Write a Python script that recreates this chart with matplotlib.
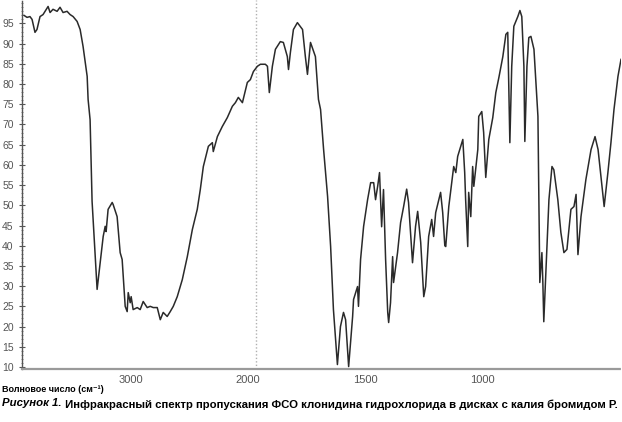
import numpy as np
import matplotlib
matplotlib.use("Agg")
import matplotlib.pyplot as plt
import matplotlib.transforms as mtransforms
from matplotlib.ticker import MultipleLocator, FixedLocator

# IR spectrum, wavenumber (cm-1) and transmittance (%)
wn_high = [3983, 3957, 3932, 3914, 3889, 3872, 3846, 3820, 3777, 3760, 3735, 3700,
           3675, 3649, 3615, 3589, 3563, 3529, 3503, 3478, 3443, 3435, 3418, 3401,
           3358, 3332, 3306, 3289, 3281, 3264, 3229, 3221, 3187, 3161, 3144, 3118,
           3101, 3092, 3075, 3067, 3050, 3015, 2990, 2964, 2930, 2904, 2878, 2844,
           2818, 2793, 2759, 2733, 2707, 2673, 2630, 2587, 2544, 2502, 2476, 2450,
           2407, 2373, 2365, 2330, 2288, 2245, 2202, 2176, 2151, 2116, 2074, 2048, 2022]
t_high = [97.0, 96.5, 96.7, 96.0, 92.8, 93.5, 96.7, 97.2, 99.2, 97.7, 98.5, 98.0,
          99.0, 97.7, 98.0, 97.2, 96.7, 95.5, 93.5, 89.3, 81.9, 76.2, 71.2, 51.0,
          29.2, 35.8, 42.3, 44.8, 43.5, 49.0, 50.7, 50.2, 47.2, 38.3, 36.6, 25.0,
          23.7, 28.4, 25.9, 27.4, 24.2, 24.7, 24.2, 26.2, 24.7, 25.0, 24.7, 24.7,
          21.7, 23.5, 22.5, 23.7, 25.0, 27.4, 31.6, 37.3, 44.0, 49.0, 53.9, 59.6,
          64.6, 65.5, 63.3, 67.0, 69.5, 71.7, 74.5, 75.4, 76.7, 75.4, 80.4, 81.1, 83.1]

wn_low = [1994, 1981, 1960, 1951, 1943, 1930, 1917, 1896, 1883, 1866, 1861, 1853,
          1840, 1823, 1801, 1789, 1780, 1767, 1746, 1733, 1724, 1711, 1694, 1681,
          1669, 1652, 1639, 1626, 1617, 1604, 1587, 1583, 1566, 1562, 1553, 1540,
          1523, 1510, 1497, 1489, 1480, 1472, 1463, 1455, 1446, 1437, 1433, 1425,
          1416, 1412, 1395, 1382, 1369, 1356, 1348, 1331, 1318, 1309, 1296, 1283,
          1275, 1262, 1249, 1241, 1232, 1211, 1202, 1193, 1189, 1176, 1155, 1146,
          1138, 1116, 1108, 1104, 1095, 1091, 1082, 1074, 1069, 1052, 1048, 1035,
          1027, 1018, 1005, 988, 975, 962, 945, 932, 924, 920, 915, 907,
          898, 881, 872, 864, 855, 851, 842, 834, 825, 812, 795, 791,
          787, 778, 774, 770, 757, 748, 735, 727, 710, 697, 684, 671,
          654, 641, 632, 624, 611, 590, 568, 551, 538, 521, 512, 496,
          483, 470, 453, 440]
t_low = [84.4, 84.9, 84.9, 84.4, 77.9, 84.4, 88.6, 90.5, 90.3, 86.8, 83.6, 87.8,
         93.5, 95.2, 93.5, 86.8, 82.4, 90.3, 86.8, 76.2, 73.7, 63.8, 52.2, 39.8,
         24.2, 10.6, 20.0, 23.5, 21.7, 10.1, 22.5, 26.7, 29.9, 25.0, 36.6, 44.8,
         51.4, 55.6, 55.6, 51.4, 54.7, 58.1, 44.7, 53.9, 36.6, 23.5, 21.0, 25.9,
         37.3, 30.9, 38.3, 45.7, 49.7, 54.0, 50.7, 35.8, 44.8, 48.5, 40.8, 27.4,
         29.9, 42.3, 46.5, 42.3, 48.2, 53.2, 48.2, 40.0, 39.8, 49.7, 59.6, 58.1,
         62.1, 66.3, 58.1, 51.4, 39.8, 53.2, 47.2, 59.6, 54.7, 63.8, 72.0, 73.2,
         68.0, 56.9, 66.3, 71.7, 77.9, 81.6, 86.8, 92.3, 92.8, 80.4, 65.5, 84.4,
         94.3, 96.7, 98.2, 96.7, 84.4, 65.8, 84.4, 91.5, 91.8, 88.6, 72.0, 51.4,
         30.9, 38.3, 30.9, 21.2, 39.1, 51.4, 59.6, 58.8, 51.4, 43.3, 38.3, 39.1,
         49.0, 49.7, 52.7, 37.8, 47.2, 56.4, 63.8, 67.0, 63.8, 54.7, 49.7, 58.1,
         65.5, 73.7, 81.9, 86.1]

x_ticks = [3000, 2000, 1500, 1000]
y_ticks = list(range(10, 100, 5))

xlabel = "Волновое число (см\u207b\u00b9)"
fig_num = "Рисунок 1."
caption = " Инфракрасный спектр пропускания ФСО клонидина гидрохлорида в дисках с калия бромидом Р."

wn = np.array(wn_high + wn_low, dtype=float)
trans = np.array(t_high + t_low)


# instrument scale: below 2000 cm-1 the axis is stretched two times
def fwd(x):
    x = np.asarray(x, dtype=float)
    return np.where(x >= 2000, x, 2000 - (2000 - x) * 2)


def inv(u):
    u = np.asarray(u, dtype=float)
    return np.where(u >= 2000, u, 2000 - (2000 - u) / 2)


FONT = ["Liberation Sans", "DejaVu Sans"]

fig = plt.figure(figsize=(6.22, 4.22), dpi=100)
ax = fig.add_axes([22 / 622, 53 / 422, 599 / 622, 369 / 422])
ax.set_xscale("function", functions=(fwd, inv))
ax.set_xlim(4000, 440)
ax.set_ylim(9.5, 100.8)

ax.axvline(2000, color="#b0b0b0", lw=1.0, ls=(0, (1, 1.5)), zorder=0)
ax.plot(wn, trans, color="#2a2a2a", lw=1.1)

for s in ["top", "right"]:
    ax.spines[s].set_visible(False)
ax.spines["left"].set_color("#555555")
ax.spines["left"].set_linewidth(1.0)
ax.spines["left"].set_linestyle((0, (1, 1)))
ax.spines["bottom"].set_color("#9a9a9a")
ax.spines["bottom"].set_linewidth(1.6)
ax.spines["bottom"].set_linestyle((0, (2, 1)))

ax.xaxis.set_major_locator(FixedLocator(x_ticks))
ax.xaxis.set_minor_locator(FixedLocator([]))
ax.set_xticklabels([str(t) for t in x_ticks], family=FONT)
ax.yaxis.set_major_locator(FixedLocator(y_ticks))
ax.yaxis.set_minor_locator(MultipleLocator(1))
ax.set_yticklabels([str(t) for t in y_ticks], family=FONT)
ax.tick_params(axis="x", length=0, pad=4, labelsize=8, labelcolor="#555555")
ax.tick_params(axis="y", which="major", direction="inout", length=4, width=0.8,
               color="#555555", pad=4, labelsize=7.5, labelcolor="#555555")
ax.tick_params(axis="y", which="minor", direction="inout", length=2, width=0.6,
               color="#777777")

# tick labels sit a little to the left of their positions in the original
shift = mtransforms.ScaledTranslation(-8 / 100, 0, fig.dpi_scale_trans)
for lab in ax.get_xticklabels():
    lab.set_transform(lab.get_transform() + shift)

fig.text(2 / 622, 1 - 389 / 422, xlabel, fontsize=6.5, fontweight="bold",
         family=FONT, va="center", ha="left")
t1 = fig.text(2 / 622, 1 - 406 / 422, fig_num, fontsize=8.5, fontweight="bold",
              fontstyle="italic", family=FONT, va="baseline", ha="left")
t2 = ax.annotate(caption, xy=(1, 0), xycoords=t1, va="baseline", ha="left",
                 fontsize=8.5, fontweight="bold", family=FONT,
                 annotation_clip=False)

# shrink the caption so that it ends near the right edge, like the scan
fig.canvas.draw()
r = fig.canvas.get_renderer()
right = t2.get_window_extent(r).x1
if right > 619:
    k = (619 - 2) / (right - 2)
    t1.set_fontsize(8.5 * k)
    t2.set_fontsize(8.5 * k)

fig.savefig("out.png", dpi=100)
